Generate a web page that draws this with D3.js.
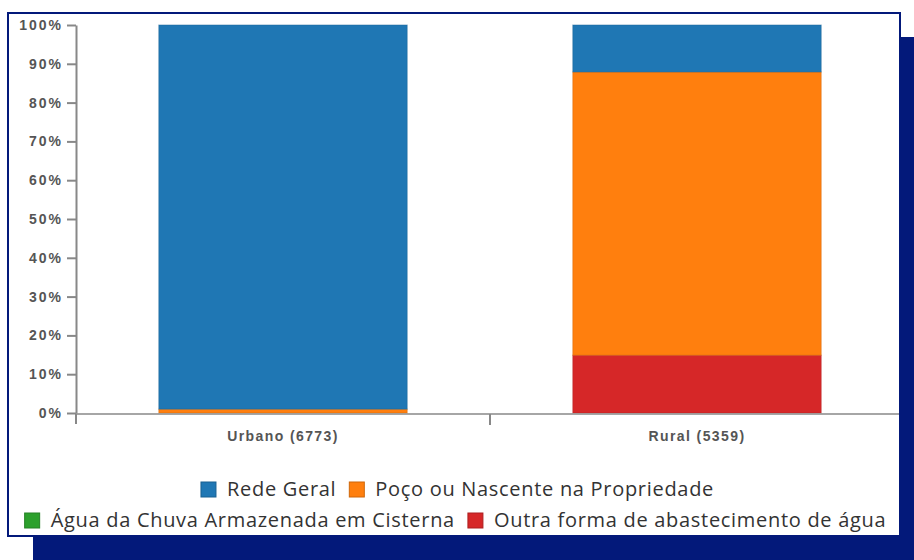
<!DOCTYPE html>
<html>
<head>
<meta charset="utf-8">
<script src="https://cdn.jsdelivr.net/npm/d3@7"></script>
<style>
  body { margin: 0; background: #fff; }
  .tick text { font-family: Arial, "Liberation Sans", sans-serif; }
  .axis path, .axis line { stroke: #888; }
  .legend text { font-family: "Open Sans", sans-serif; fill: #333; }
</style>
</head>
<body>
<div class="chart"></div>
<script>
// categories and stacked values (percent of households)
var categories = ["Urbano (6773)", "Rural (5359)"];
var seriesNames = ["Rede Geral", "Poço ou Nascente na Propriedade", "Água da Chuva Armazenada em Cisterna", "Outra forma de abastecimento de água"];
var redeGeral = [99.0, 12.1];
var poco = [1.0, 73.0];
var chuva = [0.0, 0.0];
var outra = [0.0, 14.9];
var yTicks = [0, 10, 20, 30, 40, 50, 60, 70, 80, 90, 100];
var colors = ["#1f77b4", "#ff7f0e", "#2ca02c", "#d62728"];

var svgWidth = 914;
var svgHeight = 560;

var svg = d3.select(".chart")
  .append("svg")
  .attr("width", svgWidth)
  .attr("height", svgHeight);

// navy frame: shadow + outlined white panel
svg.append("rect")
  .attr("x", 33).attr("y", 37)
  .attr("width", svgWidth - 33).attr("height", svgHeight - 37)
  .attr("fill", "#03197a");
svg.append("rect")
  .attr("x", 8).attr("y", 13)
  .attr("width", 892).attr("height", 523)
  .attr("fill", "#fff")
  .attr("stroke", "#03197a")
  .attr("stroke-width", 2);

var margin = { top: 25, left: 76 };
var width = 828;
var height = 388;

var chartGroup = svg.append("g")
  .attr("transform", `translate(${margin.left}, ${margin.top})`);

// build the stack table from the arrays
var table = categories.map(function(c, i) {
  return { cat: c, s0: redeGeral[i], s1: poco[i], s2: chuva[i], s3: outra[i] };
});
// bottom to top: outra, chuva, poco, rede geral
var stack = d3.stack().keys(["s3", "s2", "s1", "s0"]);
var layers = stack(table);

var xBand = d3.scaleBand()
  .domain(categories)
  .range([0, width])
  .paddingInner(0.4)
  .paddingOuter(0.2);

var yLinearScale = d3.scaleLinear()
  .domain([0, 100])
  .range([height, 0]);

var yAxis = d3.axisLeft(yLinearScale)
  .tickValues(yTicks)
  .tickFormat(d => d + "%")
  .tickSizeInner(9)
  .tickSizeOuter(0)
  .tickPadding(4);

var xAxis = d3.axisBottom(xBand)
  .tickSizeOuter(0)
  .tickSize(0)
  .tickPadding(17);

// bars
chartGroup.selectAll("g.layer")
  .data(layers)
  .enter()
  .append("g")
  .attr("class", "layer")
  .attr("fill", d => colors[+d.key.slice(1)])
  .attr("stroke", d => d3.color(colors[+d.key.slice(1)]).darker(0.5))
  .selectAll("rect")
  .data(d => d)
  .enter()
  .append("rect")
  .attr("x", d => xBand(d.data.cat))
  .attr("y", d => yLinearScale(d[1]))
  .attr("width", xBand.bandwidth())
  .attr("height", d => yLinearScale(d[0]) - yLinearScale(d[1]))
  .attr("stroke-width", d => (d[1] - d[0]) > 0 ? 1 : 0)
  .attr("stroke-opacity", 0.5);

// x axis
var xg = chartGroup.append("g")
  .attr("class", "axis")
  .attr("transform", `translate(0, ${height + 1})`)
  .call(xAxis);
// axis line stops at the panel border
xg.select(".domain")
  .attr("d", `M0,0H${width - 5}`)
  .attr("stroke", "#999").attr("stroke-width", 1.5);
xg.selectAll(".tick text")
  .attr("font-size", 14)
  .attr("font-weight", "bold")
  .attr("fill", "#555")
  .attr("letter-spacing", 1.4);
// divider tick between the two groups
xg.append("line")
  .attr("x1", xBand.step())
  .attr("x2", xBand.step())
  .attr("y1", 0).attr("y2", 11)
  .attr("stroke", "#666")
  .attr("stroke-width", 2);
xg.append("line")
  .attr("x1", 0).attr("x2", 0)
  .attr("y1", 0).attr("y2", 10)
  .attr("stroke", "#666")
  .attr("stroke-width", 2);

// y axis
var yg = chartGroup.append("g")
  .attr("class", "axis")
  .call(yAxis);
yg.select(".domain").attr("stroke", "#666").attr("stroke-width", 2);
yg.selectAll(".tick line").attr("stroke", "#555").attr("stroke-width", 2);
yg.selectAll(".tick text")
  .attr("font-size", 14)
  .attr("font-weight", "bold")
  .attr("fill", "#555")
  .attr("letter-spacing", 2);

// legend
var legendRows = [[0, 1], [2, 3]];
var legendY = [489, 520];
var legendShift = [4, 2];
var legend = svg.append("g").attr("class", "legend");
legendRows.forEach(function(row, r) {
  var g = legend.append("g");
  var x = 0;
  row.forEach(function(s) {
    g.append("rect")
      .attr("x", x).attr("y", -7)
      .attr("width", 15).attr("height", 15)
      .attr("fill", colors[s])
      .attr("stroke", d3.color(colors[s]).darker(0.6))
      .attr("stroke-width", 1);
    var t = g.append("text")
      .attr("x", x + 26).attr("y", 0)
      .attr("dy", "0.35em")
      .attr("font-size", 20)
      .attr("letter-spacing", 0.7)
      .text(seriesNames[s]);
    x += 26 + t.node().getComputedTextLength() + 13;
  });
  var w = x - 13;
  g.attr("transform", `translate(${(25 + 882) / 2 - w / 2 + legendShift[r]}, ${legendY[r]})`);
});
</script>
</body>
</html>
